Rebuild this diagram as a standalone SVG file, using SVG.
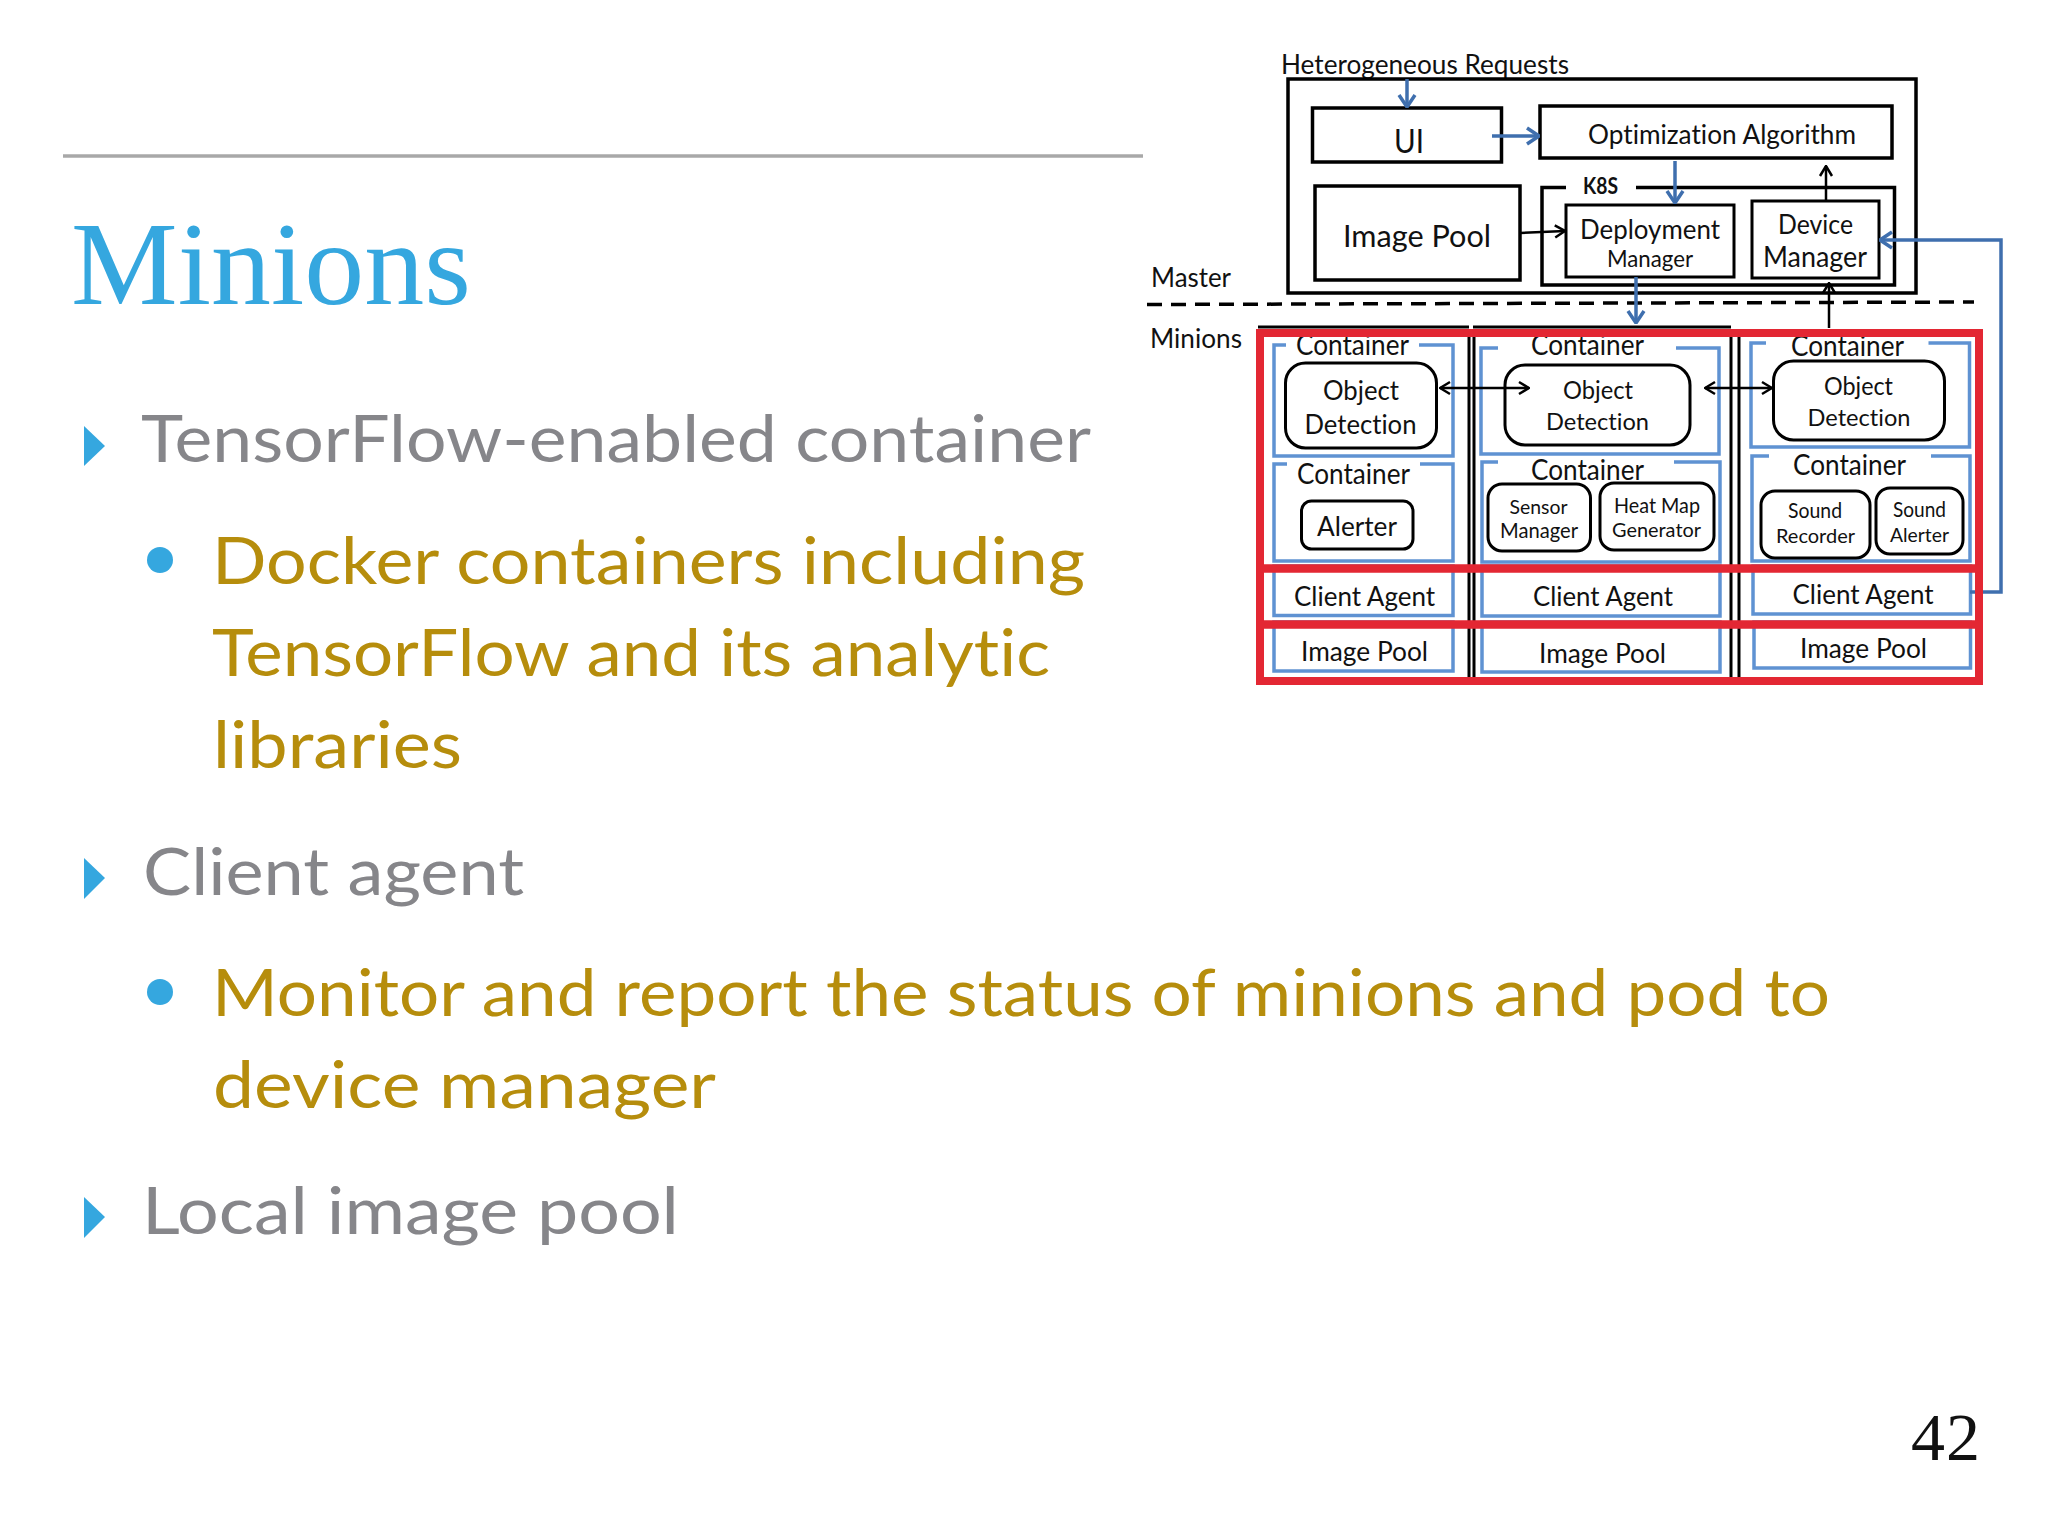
<svg xmlns="http://www.w3.org/2000/svg" width="2048" height="1536" viewBox="0 0 2048 1536">
<style>
text{font-family:"Lato","Liberation Sans",sans-serif;fill:#111;font-variant-ligatures:none}
.s{font-size:66px;fill:#86868a}
.g{font-size:66px;fill:#b68d0c}
.bk{fill:#fff;stroke:#000;stroke-width:3.5}
.bk2{fill:#fff;stroke:#000;stroke-width:3}
.cb{fill:none;stroke:#5f92d2;stroke-width:3.5}
.rd{stroke:#000;stroke-width:3;fill:#fff}
.red{fill:none;stroke:#e32733;stroke-width:8}
.lb{stroke:#3f6fae;stroke-width:3.5;fill:none;marker-end:url(#ab)}
.lk{stroke:#000;stroke-width:2.5;fill:none;marker-end:url(#ak)}
.tri{fill:#35a7df}
</style>
<defs>
<marker id="ab" viewBox="0 0 16 20" refX="15" refY="10" markerWidth="16" markerHeight="20" markerUnits="userSpaceOnUse" orient="auto-start-reverse"><path d="M3 2L15 10L3 18" fill="none" stroke="#3f6fae" stroke-width="3.5"/></marker>
<marker id="ak" viewBox="0 0 14 16" refX="13" refY="8" markerWidth="14" markerHeight="16" markerUnits="userSpaceOnUse" orient="auto-start-reverse"><path d="M3 2L13 8L3 14" fill="none" stroke="#000" stroke-width="2.5"/></marker>
</defs>
<rect width="2048" height="1536" fill="#fff"/>
<g id="slide">
<line x1="63" y1="156" x2="1143" y2="156" stroke="#a8a8a8" stroke-width="3.5"/>
<text x="71" y="304" textLength="400" lengthAdjust="spacingAndGlyphs" style="font-family:'Liberation Serif',serif;font-size:119px;fill:#35a7df">Minions</text>
<path class="tri" d="M84 426L105 446L84 466Z"/>
<text class="s" x="141" y="462" textLength="950" lengthAdjust="spacingAndGlyphs">TensorFlow-enabled container</text>
<circle class="tri" cx="160" cy="560" r="13"/>
<text class="g" x="212" y="584" textLength="873" lengthAdjust="spacingAndGlyphs">Docker containers including</text>
<text class="g" x="212" y="676" textLength="838" lengthAdjust="spacingAndGlyphs">TensorFlow and its analytic</text>
<text class="g" x="213" y="768" textLength="249" lengthAdjust="spacingAndGlyphs">libraries</text>
<path class="tri" d="M84 858L105 878L84 899Z"/>
<text class="s" x="143" y="895" textLength="381" lengthAdjust="spacingAndGlyphs">Client agent</text>
<circle class="tri" cx="160" cy="992" r="13"/>
<text class="g" x="212" y="1016" textLength="1618" lengthAdjust="spacingAndGlyphs">Monitor and report the status of minions and pod to</text>
<text class="g" x="213" y="1108" textLength="503" lengthAdjust="spacingAndGlyphs">device manager</text>
<path class="tri" d="M84 1197L105 1217L84 1238Z"/>
<text class="s" x="142" y="1234" textLength="537" lengthAdjust="spacingAndGlyphs">Local image pool</text>
<text x="1911" y="1460" textLength="69" style="font-family:'Liberation Serif',serif;font-size:68px;fill:#111">42</text>
</g>
<g id="labels">
<text x="1281" y="74" font-size="26" textLength="288" lengthAdjust="spacingAndGlyphs">Heterogeneous Requests</text>
<text x="1151" y="287" font-size="27" textLength="80" lengthAdjust="spacingAndGlyphs">Master</text>
<text x="1150" y="348" font-size="27" textLength="92" lengthAdjust="spacingAndGlyphs">Minions</text>
</g>
<g id="master"><rect class="bk" x="1288" y="79" width="628" height="214" style="fill:none"/></g>
<g id="ui"><rect class="bk" x="1312.500" y="108" width="189" height="54"/><text x="1394" y="153" font-size="33" textLength="30" lengthAdjust="spacingAndGlyphs">UI</text></g>
<g id="optimization"><rect class="bk" x="1540" y="106" width="352" height="52"/><text x="1588" y="144" font-size="27" textLength="268" lengthAdjust="spacingAndGlyphs">Optimization Algorithm</text></g>
<g id="master-image-pool"><rect class="bk" x="1315" y="186" width="205" height="94"/><text x="1343" y="247" font-size="30" textLength="148" lengthAdjust="spacingAndGlyphs">Image Pool</text></g>
<g id="k8s"><path d="M1566 187.500H1542V285H1894.500V187.500H1636" fill="none" stroke="#000" stroke-width="3.500"/><text x="1583" y="194" font-size="22" font-weight="700" textLength="35" lengthAdjust="spacingAndGlyphs">K8S</text></g>
<g id="deployment-manager"><rect class="bk2" x="1566" y="205" width="168" height="72"/><text x="1580" y="239" font-size="27" textLength="140" lengthAdjust="spacingAndGlyphs">Deployment</text><text x="1607" y="267" font-size="23" textLength="86" lengthAdjust="spacingAndGlyphs">Manager</text></g>
<g id="device-manager"><rect class="bk2" x="1752" y="201" width="127" height="77"/><text x="1778" y="234" font-size="26" textLength="75" lengthAdjust="spacingAndGlyphs">Device</text><text x="1763" y="267" font-size="28" textLength="104" lengthAdjust="spacingAndGlyphs">Manager</text></g>
<g id="minion-frames" fill="none" stroke="#000">
<path d="M1258 327H1469M1473 327H1731" stroke-width="3"/>
<path d="M1469 330V677M1474 330V677M1731 330V677M1739 330V677" stroke-width="3"/>
</g>
<g id="minion1">
<g id="m1-container1"><path class="cb" d="M1286 345H1274V456H1453V345H1419"/><text x="1296" y="355" font-size="28" textLength="113" lengthAdjust="spacingAndGlyphs">Container</text><rect class="rd" x="1285.500" y="363" width="151" height="85" rx="20"/><text x="1323" y="400" font-size="27" textLength="76" lengthAdjust="spacingAndGlyphs">Object</text><text x="1304.500" y="434" font-size="26" textLength="112" lengthAdjust="spacingAndGlyphs">Detection</text></g>
<g id="m1-container2"><path class="cb" d="M1287 464H1274V561H1453V464H1420"/><text x="1297" y="484" font-size="28" textLength="113" lengthAdjust="spacingAndGlyphs">Container</text><rect class="rd" x="1301.500" y="501" width="111.500" height="48" rx="10"/><text x="1317" y="536" font-size="27" textLength="80" lengthAdjust="spacingAndGlyphs">Alerter</text></g>
<g id="m1-client"><rect class="cb" x="1274" y="566" width="179" height="49.500"/><text x="1294" y="606" font-size="26" textLength="141" lengthAdjust="spacingAndGlyphs">Client Agent</text></g>
<g id="m1-pool"><rect class="cb" x="1274" y="622" width="179" height="49"/><text x="1301" y="661" font-size="26" textLength="127" lengthAdjust="spacingAndGlyphs">Image Pool</text></g>
</g>
<g id="minion2">
<g id="m2-container1"><path class="cb" d="M1498 348H1481V454H1719V348H1676"/><text x="1531" y="355" font-size="28" textLength="113" lengthAdjust="spacingAndGlyphs">Container</text><rect class="rd" x="1505" y="365" width="185" height="80" rx="20"/><text x="1563" y="399" font-size="25" textLength="70" lengthAdjust="spacingAndGlyphs">Object</text><text x="1546" y="430" font-size="24" textLength="103" lengthAdjust="spacingAndGlyphs">Detection</text></g>
<g id="m2-container2"><path class="cb" d="M1498 462H1482V562H1720V462H1674"/><text x="1531" y="480" font-size="28" textLength="113" lengthAdjust="spacingAndGlyphs">Container</text><rect class="rd" x="1488" y="484" width="102.500" height="67" rx="14"/><text x="1509.500" y="514" font-size="20" textLength="58" lengthAdjust="spacingAndGlyphs">Sensor</text><text x="1500" y="538" font-size="21" textLength="78" lengthAdjust="spacingAndGlyphs">Manager</text><rect class="rd" x="1600" y="483" width="114" height="67" rx="14"/><text x="1614" y="513" font-size="21" textLength="86" lengthAdjust="spacingAndGlyphs">Heat Map</text><text x="1612" y="537" font-size="20" textLength="89" lengthAdjust="spacingAndGlyphs">Generator</text></g>
<g id="m2-client"><rect class="cb" x="1482" y="566" width="238" height="50"/><text x="1533" y="606" font-size="26" textLength="140" lengthAdjust="spacingAndGlyphs">Client Agent</text></g>
<g id="m2-pool"><rect class="cb" x="1482" y="622" width="238" height="50"/><text x="1539" y="663" font-size="26" textLength="127" lengthAdjust="spacingAndGlyphs">Image Pool</text></g>
</g>
<g id="minion3">
<g id="m3-container1"><path class="cb" d="M1766 343H1751V447H1969.500V343H1928.500"/><text x="1791" y="356" font-size="28" textLength="113" lengthAdjust="spacingAndGlyphs">Container</text><rect class="rd" x="1773.500" y="361" width="171" height="79" rx="20"/><text x="1824" y="395" font-size="25" textLength="69" lengthAdjust="spacingAndGlyphs">Object</text><text x="1807.500" y="426" font-size="24" textLength="103" lengthAdjust="spacingAndGlyphs">Detection</text></g>
<g id="m3-container2"><path class="cb" d="M1769 456H1752V561H1970V456H1931"/><text x="1793" y="475" font-size="28" textLength="113" lengthAdjust="spacingAndGlyphs">Container</text><rect class="rd" x="1761" y="491" width="109" height="67" rx="14"/><text x="1788" y="518" font-size="21" textLength="54" lengthAdjust="spacingAndGlyphs">Sound</text><text x="1776" y="543" font-size="20" textLength="79" lengthAdjust="spacingAndGlyphs">Recorder</text><rect class="rd" x="1876" y="488" width="87" height="66" rx="14"/><text x="1893" y="517" font-size="21" textLength="53" lengthAdjust="spacingAndGlyphs">Sound</text><text x="1890" y="542" font-size="20" textLength="59" lengthAdjust="spacingAndGlyphs">Alerter</text></g>
<g id="m3-client"><rect class="cb" x="1753" y="566" width="217.500" height="48"/><text x="1792.500" y="604" font-size="26" textLength="141" lengthAdjust="spacingAndGlyphs">Client Agent</text></g>
<g id="m3-pool"><rect class="cb" x="1754" y="622" width="216.500" height="46"/><text x="1800" y="658" font-size="26" textLength="127" lengthAdjust="spacingAndGlyphs">Image Pool</text></g>
</g>
<g id="connectors">
<path d="M1147 304.500L1974 302" stroke="#000" stroke-width="3.500" stroke-dasharray="15 9" fill="none"/>
<path class="lb" d="M1407 79V107"/>
<path class="lb" d="M1492 136H1539"/>
<path class="lb" d="M1675 161V203"/>
<path class="lk" d="M1826 200V166"/>
<path class="lk" d="M1520 233L1565 231"/>
<path class="lb" d="M1636 277V323"/>
<path class="lk" d="M1829 328V283"/>
<path class="lb" d="M1970 592H2001V240H1880"/>
<path class="lk" d="M1440 388H1529" style="marker-start:url(#ak)"/>
<path class="lk" d="M1705 388H1772" style="marker-start:url(#ak)"/>
</g>
<g id="red-highlights">
<rect class="red" x="1260" y="333" width="719" height="348"/>
<path class="red" d="M1260 568.500H1979M1260 624.500H1979" style="stroke-width:8.500"/>
</g>
</svg>
